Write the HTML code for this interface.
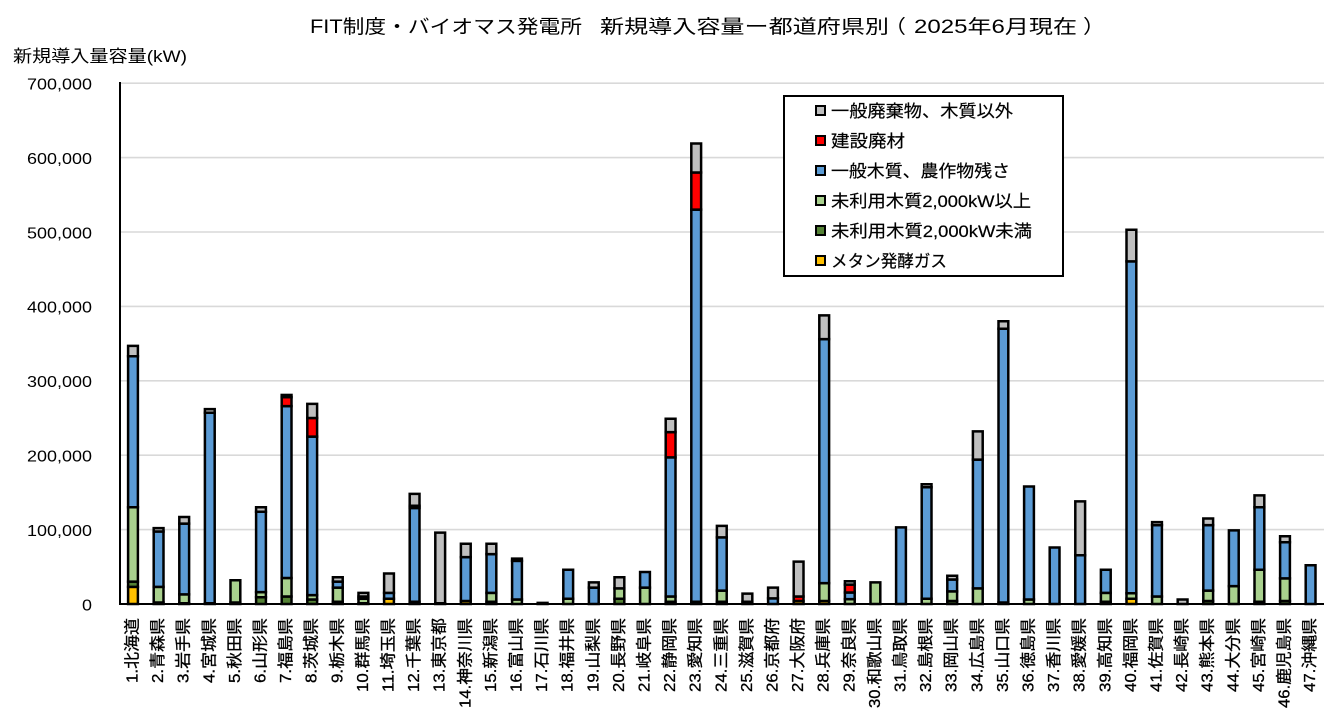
<!DOCTYPE html>
<html><head><meta charset="utf-8">
<style>
html,body{margin:0;padding:0;background:#fff;}
svg{display:block;font-family:"Liberation Sans","Noto Sans CJK JP",sans-serif;}
.bar rect{stroke:#000;stroke-width:2.5;vector-effect:non-scaling-stroke;}
.Y{fill:#ffc000}.D{fill:#548235}.L{fill:#a9d18e}.B{fill:#5b9bd5}.R{fill:#ff0000}.G{fill:#bfbfbf}
.lm{stroke:#000;stroke-width:2}
.xl{font-size:16px;fill:#000;stroke:#000;stroke-width:0.3}
.lg text{stroke:#000;stroke-width:0.2}
</style></head>
<body>
<svg width="1343" height="725" viewBox="0 0 1343 725" xmlns="http://www.w3.org/2000/svg">
<rect width="1343" height="725" fill="#fff"/>
<!-- title -->
<text x="310" y="33" font-size="19" textLength="272" lengthAdjust="spacingAndGlyphs">FIT制度・バイオマス発電所</text>
<text x="600" y="33" font-size="19" textLength="289" lengthAdjust="spacingAndGlyphs">新規導入容量ー都道府県別</text>
<text x="884" y="33" font-size="19" textLength="22" lengthAdjust="spacingAndGlyphs">（</text>
<text x="914" y="33" font-size="19" textLength="163" lengthAdjust="spacingAndGlyphs">2025年6月現在</text>
<text x="1083" y="33" font-size="19" textLength="22" lengthAdjust="spacingAndGlyphs">）</text>
<!-- y axis title -->
<text x="13" y="62" font-size="17" textLength="174" lengthAdjust="spacingAndGlyphs">新規導入量容量(kW)</text>
<!-- gridlines -->
<g stroke="#d9d9d9" stroke-width="1.6">
<line x1="121" y1="83.2" x2="1324" y2="83.2"/>
<line x1="121" y1="157.6" x2="1324" y2="157.6"/>
<line x1="121" y1="232" x2="1324" y2="232"/>
<line x1="121" y1="306.4" x2="1324" y2="306.4"/>
<line x1="121" y1="380.8" x2="1324" y2="380.8"/>
<line x1="121" y1="455.2" x2="1324" y2="455.2"/>
<line x1="121" y1="529.6" x2="1324" y2="529.6"/>
</g>
<!-- y tick labels -->
<g font-size="16" font-family="Liberation Sans, sans-serif">
<text x="27" y="89.5" textLength="65" lengthAdjust="spacingAndGlyphs">700,000</text>
<text x="27" y="163.9" textLength="65" lengthAdjust="spacingAndGlyphs">600,000</text>
<text x="27" y="238.3" textLength="65" lengthAdjust="spacingAndGlyphs">500,000</text>
<text x="27" y="312.7" textLength="65" lengthAdjust="spacingAndGlyphs">400,000</text>
<text x="27" y="387.1" textLength="65" lengthAdjust="spacingAndGlyphs">300,000</text>
<text x="27" y="461.5" textLength="65" lengthAdjust="spacingAndGlyphs">200,000</text>
<text x="27" y="535.9" textLength="65" lengthAdjust="spacingAndGlyphs">100,000</text>
<text x="82" y="610.3" textLength="10" lengthAdjust="spacingAndGlyphs">0</text>
</g>
<!-- legend -->
<rect x="784" y="96" width="279" height="180" fill="#fff" stroke="#000" stroke-width="2"/>
<g font-size="17" class="lg">
<rect class="lm G" x="816" y="106" width="9" height="9"/>
<text x="831" y="117" textLength="182" lengthAdjust="spacingAndGlyphs">一般廃棄物、木質以外</text>
<rect class="lm R" x="816" y="136" width="9" height="9"/>
<text x="831" y="147" textLength="74" lengthAdjust="spacingAndGlyphs">建設廃材</text>
<rect class="lm B" x="816" y="166" width="9" height="9"/>
<text x="831" y="177" textLength="179" lengthAdjust="spacingAndGlyphs">一般木質、農作物残さ</text>
<rect class="lm L" x="816" y="196" width="9" height="9"/>
<text x="831" y="207" textLength="200" lengthAdjust="spacingAndGlyphs">未利用木質2,000kW以上</text>
<rect class="lm D" x="816" y="226" width="9" height="9"/>
<text x="831" y="237" textLength="201" lengthAdjust="spacingAndGlyphs">未利用木質2,000kW未満</text>
<rect class="lm Y" x="816" y="256" width="9" height="9"/>
<text x="831" y="267" textLength="116" lengthAdjust="spacingAndGlyphs">メタン発酵ガス</text>
</g>
<!-- bars -->
<g class="bar">
<g transform="translate(128.1,604) scale(1,-0.744)"><rect class="Y" y="0" width="9.8" height="23"/><rect class="D" y="23" width="9.8" height="7"/><rect class="L" y="30" width="9.8" height="100"/><rect class="B" y="130" width="9.8" height="203"/><rect class="G" y="333" width="9.8" height="14"/></g>
<g transform="translate(153.7,604) scale(1,-0.744)"><rect class="D" y="0" width="9.8" height="2"/><rect class="L" y="2" width="9.8" height="21"/><rect class="B" y="23" width="9.8" height="74.5"/><rect class="G" y="97.5" width="9.8" height="4.5"/></g>
<g transform="translate(179.3,604) scale(1,-0.744)"><rect class="D" y="0" width="9.8" height="1"/><rect class="L" y="1" width="9.8" height="12"/><rect class="B" y="13" width="9.8" height="95"/><rect class="G" y="108" width="9.8" height="9"/></g>
<g transform="translate(204.9,604) scale(1,-0.744)"><rect class="D" y="0" width="9.8" height="1"/><rect class="B" y="1" width="9.8" height="256"/><rect class="G" y="257" width="9.8" height="5"/></g>
<g transform="translate(230.5,604) scale(1,-0.744)"><rect class="D" y="0" width="9.8" height="2"/><rect class="L" y="2" width="9.8" height="30"/></g>
<g transform="translate(256.1,604) scale(1,-0.744)"><rect class="D" y="0" width="9.8" height="9"/><rect class="L" y="9" width="9.8" height="7"/><rect class="B" y="16" width="9.8" height="108"/><rect class="G" y="124" width="9.8" height="6"/></g>
<g transform="translate(281.7,604) scale(1,-0.744)"><rect class="D" y="0" width="9.8" height="10"/><rect class="L" y="10" width="9.8" height="25"/><rect class="B" y="35" width="9.8" height="231"/><rect class="R" y="266" width="9.8" height="12"/><rect class="G" y="278" width="9.8" height="3"/></g>
<g transform="translate(307.3,604) scale(1,-0.744)"><rect class="D" y="0" width="9.8" height="6"/><rect class="L" y="6" width="9.8" height="6"/><rect class="B" y="12" width="9.8" height="213"/><rect class="R" y="225" width="9.8" height="25"/><rect class="G" y="250" width="9.8" height="19"/></g>
<g transform="translate(332.9,604) scale(1,-0.744)"><rect class="D" y="0" width="9.8" height="3"/><rect class="L" y="3" width="9.8" height="19"/><rect class="B" y="22" width="9.8" height="8"/><rect class="G" y="30" width="9.8" height="6"/></g>
<g transform="translate(358.5,604) scale(1,-0.744)"><rect class="D" y="0" width="9.8" height="1"/><rect class="L" y="1" width="9.8" height="6"/><rect class="B" y="7" width="9.8" height="3"/><rect class="G" y="10" width="9.8" height="5"/></g>
<g transform="translate(384.1,604) scale(1,-0.744)"><rect class="Y" y="0" width="9.8" height="7"/><rect class="B" y="7" width="9.8" height="8"/><rect class="G" y="15" width="9.8" height="26"/></g>
<g transform="translate(409.7,604) scale(1,-0.744)"><rect class="Y" y="0" width="9.8" height="3"/><rect class="B" y="3" width="9.8" height="126"/><rect class="R" y="129" width="9.8" height="3"/><rect class="G" y="132" width="9.8" height="16"/></g>
<g transform="translate(435.3,604) scale(1,-0.744)"><rect class="D" y="0" width="9.8" height="1"/><rect class="G" y="1" width="9.8" height="95"/></g>
<g transform="translate(460.9,604) scale(1,-0.744)"><rect class="Y" y="0" width="9.8" height="4"/><rect class="B" y="4" width="9.8" height="59"/><rect class="G" y="63" width="9.8" height="18"/></g>
<g transform="translate(486.5,604) scale(1,-0.744)"><rect class="D" y="0" width="9.8" height="3"/><rect class="L" y="3" width="9.8" height="12"/><rect class="B" y="15" width="9.8" height="52"/><rect class="G" y="67" width="9.8" height="14"/></g>
<g transform="translate(512.1,604) scale(1,-0.744)"><rect class="L" y="0" width="9.8" height="6"/><rect class="B" y="6" width="9.8" height="52"/><rect class="G" y="58" width="9.8" height="3"/></g>
<g transform="translate(537.7,604) scale(1,-0.744)"><rect class="B" y="0" width="9.8" height="1.5"/></g>
<g transform="translate(563.3,604) scale(1,-0.744)"><rect class="L" y="0" width="9.8" height="7"/><rect class="B" y="7" width="9.8" height="39"/></g>
<g transform="translate(588.9,604) scale(1,-0.744)"><rect class="B" y="0" width="9.8" height="22"/><rect class="G" y="22" width="9.8" height="7"/></g>
<g transform="translate(614.5,604) scale(1,-0.744)"><rect class="D" y="0" width="9.8" height="7"/><rect class="L" y="7" width="9.8" height="14"/><rect class="G" y="21" width="9.8" height="15"/></g>
<g transform="translate(640.1,604) scale(1,-0.744)"><rect class="L" y="0" width="9.8" height="22"/><rect class="B" y="22" width="9.8" height="21"/></g>
<g transform="translate(665.7,604) scale(1,-0.744)"><rect class="D" y="0" width="9.8" height="3"/><rect class="L" y="3" width="9.8" height="7"/><rect class="B" y="10" width="9.8" height="187"/><rect class="R" y="197" width="9.8" height="34"/><rect class="G" y="231" width="9.8" height="18"/></g>
<g transform="translate(691.3,604) scale(1,-0.744)"><rect class="Y" y="0" width="9.8" height="3"/><rect class="B" y="3" width="9.8" height="527"/><rect class="R" y="530" width="9.8" height="50"/><rect class="G" y="580" width="9.8" height="39"/></g>
<g transform="translate(716.9,604) scale(1,-0.744)"><rect class="Y" y="0" width="9.8" height="3"/><rect class="L" y="3" width="9.8" height="15"/><rect class="B" y="18" width="9.8" height="71.5"/><rect class="G" y="89.5" width="9.8" height="15.5"/></g>
<g transform="translate(742.5,604) scale(1,-0.744)"><rect class="R" y="0" width="9.8" height="3"/><rect class="G" y="3" width="9.8" height="11"/></g>
<g transform="translate(768.1,604) scale(1,-0.744)"><rect class="B" y="0" width="9.8" height="7.5"/><rect class="G" y="7.5" width="9.8" height="14.5"/></g>
<g transform="translate(793.7,604) scale(1,-0.744)"><rect class="Y" y="0" width="9.8" height="4"/><rect class="R" y="4" width="9.8" height="6"/><rect class="G" y="10" width="9.8" height="47"/></g>
<g transform="translate(819.3,604) scale(1,-0.744)"><rect class="Y" y="0" width="9.8" height="4"/><rect class="L" y="4" width="9.8" height="24"/><rect class="B" y="28" width="9.8" height="328"/><rect class="G" y="356" width="9.8" height="32"/></g>
<g transform="translate(844.9,604) scale(1,-0.744)"><rect class="L" y="0" width="9.8" height="6.5"/><rect class="B" y="6.5" width="9.8" height="9"/><rect class="R" y="15.5" width="9.8" height="10.5"/><rect class="G" y="26" width="9.8" height="4.5"/></g>
<g transform="translate(870.5,604) scale(1,-0.744)"><rect class="L" y="0" width="9.8" height="29"/></g>
<g transform="translate(896.1,604) scale(1,-0.744)"><rect class="B" y="0" width="9.8" height="103"/></g>
<g transform="translate(921.7,604) scale(1,-0.744)"><rect class="L" y="0" width="9.8" height="7"/><rect class="B" y="7" width="9.8" height="150"/><rect class="G" y="157" width="9.8" height="4"/></g>
<g transform="translate(947.3,604) scale(1,-0.744)"><rect class="D" y="0" width="9.8" height="4"/><rect class="L" y="4" width="9.8" height="13"/><rect class="B" y="17" width="9.8" height="16"/><rect class="G" y="33" width="9.8" height="5"/></g>
<g transform="translate(972.9,604) scale(1,-0.744)"><rect class="L" y="0" width="9.8" height="21"/><rect class="B" y="21" width="9.8" height="173"/><rect class="G" y="194" width="9.8" height="38"/></g>
<g transform="translate(998.5,604) scale(1,-0.744)"><rect class="D" y="0" width="9.8" height="2"/><rect class="B" y="2" width="9.8" height="368"/><rect class="G" y="370" width="9.8" height="10"/></g>
<g transform="translate(1024.1,604) scale(1,-0.744)"><rect class="L" y="0" width="9.8" height="6"/><rect class="B" y="6" width="9.8" height="152"/></g>
<g transform="translate(1049.7,604) scale(1,-0.744)"><rect class="B" y="0" width="9.8" height="76"/></g>
<g transform="translate(1075.3,604) scale(1,-0.744)"><rect class="B" y="0" width="9.8" height="65.5"/><rect class="G" y="65.5" width="9.8" height="72.5"/></g>
<g transform="translate(1100.9,604) scale(1,-0.744)"><rect class="D" y="0" width="9.8" height="3"/><rect class="L" y="3" width="9.8" height="12"/><rect class="B" y="15" width="9.8" height="31"/></g>
<g transform="translate(1126.5,604) scale(1,-0.744)"><rect class="Y" y="0" width="9.8" height="7"/><rect class="L" y="7" width="9.8" height="7.5"/><rect class="B" y="14.5" width="9.8" height="446"/><rect class="G" y="460.5" width="9.8" height="42.5"/></g>
<g transform="translate(1152.1,604) scale(1,-0.744)"><rect class="L" y="0" width="9.8" height="10"/><rect class="B" y="10" width="9.8" height="96"/><rect class="G" y="106" width="9.8" height="4"/></g>
<g transform="translate(1177.7,604) scale(1,-0.744)"><rect class="G" y="0" width="9.8" height="6"/></g>
<g transform="translate(1203.3,604) scale(1,-0.744)"><rect class="D" y="0" width="9.8" height="4"/><rect class="L" y="4" width="9.8" height="14"/><rect class="B" y="18" width="9.8" height="88"/><rect class="G" y="106" width="9.8" height="9"/></g>
<g transform="translate(1228.9,604) scale(1,-0.744)"><rect class="L" y="0" width="9.8" height="24"/><rect class="B" y="24" width="9.8" height="75"/></g>
<g transform="translate(1254.5,604) scale(1,-0.744)"><rect class="D" y="0" width="9.8" height="3"/><rect class="L" y="3" width="9.8" height="43"/><rect class="B" y="46" width="9.8" height="84"/><rect class="G" y="130" width="9.8" height="16"/></g>
<g transform="translate(1280.1,604) scale(1,-0.744)"><rect class="D" y="0" width="9.8" height="4"/><rect class="L" y="4" width="9.8" height="30.5"/><rect class="B" y="34.5" width="9.8" height="48.5"/><rect class="G" y="83" width="9.8" height="8"/></g>
<g transform="translate(1305.7,604) scale(1,-0.744)"><rect class="B" y="0" width="9.8" height="52"/></g>
</g>
<!-- axes -->
<line x1="120" y1="82" x2="120" y2="605" stroke="#000" stroke-width="2"/>
<line x1="119" y1="604" x2="1324" y2="604" stroke="#000" stroke-width="2"/>
<!-- x labels -->
<g class="xl" text-anchor="end" dominant-baseline="central">
<text transform="translate(133,618) rotate(-90)" textLength="65" lengthAdjust="spacingAndGlyphs">1.北海道</text>
<text transform="translate(158.6,618) rotate(-90)" textLength="65" lengthAdjust="spacingAndGlyphs">2.青森県</text>
<text transform="translate(184.2,618) rotate(-90)" textLength="65" lengthAdjust="spacingAndGlyphs">3.岩手県</text>
<text transform="translate(209.8,618) rotate(-90)" textLength="65" lengthAdjust="spacingAndGlyphs">4.宮城県</text>
<text transform="translate(235.4,618) rotate(-90)" textLength="65" lengthAdjust="spacingAndGlyphs">5.秋田県</text>
<text transform="translate(261,618) rotate(-90)" textLength="65" lengthAdjust="spacingAndGlyphs">6.山形県</text>
<text transform="translate(286.6,618) rotate(-90)" textLength="65" lengthAdjust="spacingAndGlyphs">7.福島県</text>
<text transform="translate(312.2,618) rotate(-90)" textLength="65" lengthAdjust="spacingAndGlyphs">8.茨城県</text>
<text transform="translate(337.8,618) rotate(-90)" textLength="65" lengthAdjust="spacingAndGlyphs">9.栃木県</text>
<text transform="translate(363.4,618) rotate(-90)" textLength="74" lengthAdjust="spacingAndGlyphs">10.群馬県</text>
<text transform="translate(389,618) rotate(-90)" textLength="74" lengthAdjust="spacingAndGlyphs">11.埼玉県</text>
<text transform="translate(414.6,618) rotate(-90)" textLength="74" lengthAdjust="spacingAndGlyphs">12.千葉県</text>
<text transform="translate(440.2,618) rotate(-90)" textLength="74" lengthAdjust="spacingAndGlyphs">13.東京都</text>
<text transform="translate(465.8,618) rotate(-90)" textLength="90" lengthAdjust="spacingAndGlyphs">14.神奈川県</text>
<text transform="translate(491.4,618) rotate(-90)" textLength="74" lengthAdjust="spacingAndGlyphs">15.新潟県</text>
<text transform="translate(517,618) rotate(-90)" textLength="74" lengthAdjust="spacingAndGlyphs">16.富山県</text>
<text transform="translate(542.6,618) rotate(-90)" textLength="74" lengthAdjust="spacingAndGlyphs">17.石川県</text>
<text transform="translate(568.2,618) rotate(-90)" textLength="74" lengthAdjust="spacingAndGlyphs">18.福井県</text>
<text transform="translate(593.8,618) rotate(-90)" textLength="74" lengthAdjust="spacingAndGlyphs">19.山梨県</text>
<text transform="translate(619.4,618) rotate(-90)" textLength="74" lengthAdjust="spacingAndGlyphs">20.長野県</text>
<text transform="translate(645,618) rotate(-90)" textLength="74" lengthAdjust="spacingAndGlyphs">21.岐阜県</text>
<text transform="translate(670.6,618) rotate(-90)" textLength="74" lengthAdjust="spacingAndGlyphs">22.静岡県</text>
<text transform="translate(696.2,618) rotate(-90)" textLength="74" lengthAdjust="spacingAndGlyphs">23.愛知県</text>
<text transform="translate(721.8,618) rotate(-90)" textLength="74" lengthAdjust="spacingAndGlyphs">24.三重県</text>
<text transform="translate(747.4,618) rotate(-90)" textLength="74" lengthAdjust="spacingAndGlyphs">25.滋賀県</text>
<text transform="translate(773,618) rotate(-90)" textLength="74" lengthAdjust="spacingAndGlyphs">26.京都府</text>
<text transform="translate(798.6,618) rotate(-90)" textLength="74" lengthAdjust="spacingAndGlyphs">27.大阪府</text>
<text transform="translate(824.2,618) rotate(-90)" textLength="74" lengthAdjust="spacingAndGlyphs">28.兵庫県</text>
<text transform="translate(849.8,618) rotate(-90)" textLength="74" lengthAdjust="spacingAndGlyphs">29.奈良県</text>
<text transform="translate(875.4,618) rotate(-90)" textLength="90" lengthAdjust="spacingAndGlyphs">30.和歌山県</text>
<text transform="translate(901,618) rotate(-90)" textLength="74" lengthAdjust="spacingAndGlyphs">31.鳥取県</text>
<text transform="translate(926.6,618) rotate(-90)" textLength="74" lengthAdjust="spacingAndGlyphs">32.島根県</text>
<text transform="translate(952.2,618) rotate(-90)" textLength="74" lengthAdjust="spacingAndGlyphs">33.岡山県</text>
<text transform="translate(977.8,618) rotate(-90)" textLength="74" lengthAdjust="spacingAndGlyphs">34.広島県</text>
<text transform="translate(1003.4,618) rotate(-90)" textLength="74" lengthAdjust="spacingAndGlyphs">35.山口県</text>
<text transform="translate(1029,618) rotate(-90)" textLength="74" lengthAdjust="spacingAndGlyphs">36.徳島県</text>
<text transform="translate(1054.6,618) rotate(-90)" textLength="74" lengthAdjust="spacingAndGlyphs">37.香川県</text>
<text transform="translate(1080.2,618) rotate(-90)" textLength="74" lengthAdjust="spacingAndGlyphs">38.愛媛県</text>
<text transform="translate(1105.8,618) rotate(-90)" textLength="74" lengthAdjust="spacingAndGlyphs">39.高知県</text>
<text transform="translate(1131.4,618) rotate(-90)" textLength="74" lengthAdjust="spacingAndGlyphs">40.福岡県</text>
<text transform="translate(1157,618) rotate(-90)" textLength="74" lengthAdjust="spacingAndGlyphs">41.佐賀県</text>
<text transform="translate(1182.6,618) rotate(-90)" textLength="74" lengthAdjust="spacingAndGlyphs">42.長崎県</text>
<text transform="translate(1208.2,618) rotate(-90)" textLength="74" lengthAdjust="spacingAndGlyphs">43.熊本県</text>
<text transform="translate(1233.8,618) rotate(-90)" textLength="74" lengthAdjust="spacingAndGlyphs">44.大分県</text>
<text transform="translate(1259.4,618) rotate(-90)" textLength="74" lengthAdjust="spacingAndGlyphs">45.宮崎県</text>
<text transform="translate(1285,618) rotate(-90)" textLength="90" lengthAdjust="spacingAndGlyphs">46.鹿児島県</text>
<text transform="translate(1310.6,618) rotate(-90)" textLength="74" lengthAdjust="spacingAndGlyphs">47.沖縄県</text>
</g>
</svg>
</body></html>
